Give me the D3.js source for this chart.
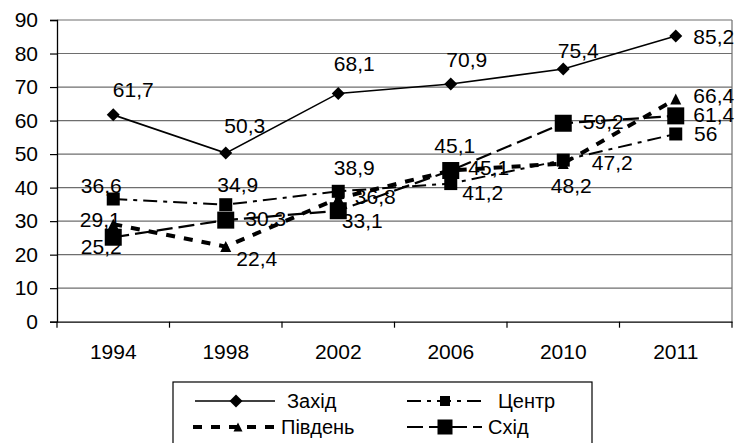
<!DOCTYPE html>
<html><head><meta charset="utf-8">
<script src="https://cdn.jsdelivr.net/npm/d3@7"></script>
<style>
html,body{margin:0;padding:0;background:#fff;}
svg{display:block;font-family:"Liberation Sans",Arial,sans-serif;}
</style></head>
<body><svg id="c" width="737" height="443"></svg>
<script>
const years = ["1994","1998","2002","2006","2010","2011"];
const seriesNames = ["Захід","Центр","Південь","Схід"];
const zakhid  = [61.7, 50.3, 68.1, 70.9, 75.4, 85.2];
const tsentr  = [36.6, 34.9, 38.9, 41.2, 48.2, 56];
const pivden  = [29.1, 22.4, 36.8, 45.1, 47.2, 66.4];
const skhid   = [25.2, 30.3, 33.1, 45.1, 59.2, 61.4];
const yTicks  = [0,10,20,30,40,50,60,70,80,90];

// label placement (layout only): offsets of label centre from its point
const labelOffsets = [
  [[20,-25],[19,-28],[16,-30],[16,-25],[15,-18],[38,0]],
  [[-12,-14],[12,-20],[16,-24],[32,9],[8,25],[30,0]],
  [[-13,-5],[31,12],[37,-2],[38,-3],[49,-1],[38,-4]],
  [[-12,9],[40,-2],[24,10],[4,-25],[40,-2],[38,-1]]
];

const styles = [
  {dash:null, width:1.6, marker:"diamond", size:13},
  {dash:"14,6,4,6", width:2, marker:"square", size:13},
  {dash:"9,9", width:4, marker:"triangle", size:11},
  {dash:"16,6", width:2.2, marker:"square", size:17}
];
const legendSizes = [13, 10, 9, 15];
const data = [zakhid, tsentr, pivden, skhid];

const svg = d3.select("#c");
const L=57, R=732, T=20, B=321.7;
const x = d3.scaleBand().domain(years).range([L,R]);
const y = d3.scaleLinear().domain([0,90]).range([B,T]);
const FS = 21;

// gridlines
svg.append("g").selectAll("line").data(yTicks.filter(d=>d>0)).join("line")
  .attr("x1",L).attr("x2",R).attr("y1",d=>y(d)).attr("y2",d=>y(d))
  .attr("stroke","#6e6e6e").attr("stroke-width",1.2);
// right border
svg.append("line").attr("x1",R).attr("x2",R).attr("y1",T).attr("y2",B)
  .attr("stroke","#6e6e6e").attr("stroke-width",1.2);

// y axis
const ya = svg.append("g").attr("transform",`translate(${L},0)`)
  .call(d3.axisLeft(y).tickValues(yTicks).tickSize(7).tickPadding(12).tickFormat(d3.format("d")));
ya.select(".domain").attr("stroke","#000").attr("stroke-width",1.3);
ya.selectAll(".tick line").attr("stroke","#000").attr("stroke-width",1.2);
ya.selectAll("text").attr("font-size",FS).attr("font-family","Liberation Sans, Arial").attr("fill","#000");

// x axis
const xa = svg.append("g").attr("transform",`translate(0,${B})`)
  .call(d3.axisBottom(x).tickSize(0).tickPadding(22));
xa.select(".domain").attr("stroke","#000").attr("stroke-width",1.3);
xa.selectAll("text").attr("font-size",FS).attr("font-family","Liberation Sans, Arial").attr("fill","#000");
// boundary ticks
const bounds = years.map(d=>x(d)).concat([R]);
svg.append("g").selectAll("line").data(bounds).join("line")
  .attr("x1",d=>d).attr("x2",d=>d).attr("y1",B).attr("y2",B+6)
  .attr("stroke","#000").attr("stroke-width",1.2);

const cx = d => x(d) + x.bandwidth()/2;

function marker(g, type, size){
  const h=size/2;
  if(type==="diamond"){
    return g.append("path").attr("d",`M0,${-h}L${h},0L0,${h}L${-h},0Z`);
  } else if(type==="square"){
    return g.append("rect").attr("x",-h).attr("y",-h).attr("width",size).attr("height",size);
  } else {
    return g.append("path").attr("d",`M0,${-h}L${h},${h}L${-h},${h}Z`);
  }
}

const line = d3.line().x((d,i)=>cx(years[i])).y(d=>y(d));
data.forEach((vals,si)=>{
  const st=styles[si];
  svg.append("path").datum(vals).attr("d",line).attr("fill","none")
    .attr("stroke","#000").attr("stroke-width",st.width)
    .attr("stroke-dasharray",st.dash);
});
data.forEach((vals,si)=>{
  const st=styles[si];
  vals.forEach((v,i)=>{
    const g=svg.append("g").attr("transform",`translate(${cx(years[i])},${y(v)})`);
    marker(g,st.marker,st.size).attr("fill","#000");
  });
});
const fmt = v => String(v).replace(".",",");
data.forEach((vals,si)=>{
  vals.forEach((v,i)=>{
    const o=labelOffsets[si][i];
    svg.append("text").attr("x",cx(years[i])+o[0]).attr("y",y(v)+o[1]+7.5)
      .attr("text-anchor","middle").attr("font-size",FS).attr("fill","#000").text(fmt(v));
  });
});

// legend
svg.append("rect").attr("x",173).attr("y",382).attr("width",419).attr("height",80)
  .attr("fill","#fff").attr("stroke","#000").attr("stroke-width",1.2);
const leg = [
  {x1:195,x2:275,mx:236,tx:287,y:401},
  {x1:407,x2:482,mx:445,tx:498,y:401},
  {x1:193,x2:278,mx:238,tx:281,y:427},
  {x1:407,x2:482,mx:445,tx:488,y:427}
];
leg.forEach((l,si)=>{
  const st=styles[si];
  svg.append("line").attr("x1",l.x1).attr("x2",l.x2).attr("y1",l.y).attr("y2",l.y)
    .attr("stroke","#000").attr("stroke-width",st.width).attr("stroke-dasharray",st.dash);
  const g=svg.append("g").attr("transform",`translate(${l.mx},${l.y})`);
  marker(g,st.marker,legendSizes[si]).attr("fill","#000");
  svg.append("text").attr("x",l.tx).attr("y",l.y+7).attr("font-size",20).attr("fill","#000").text(seriesNames[si]);
});
</script></body></html>
